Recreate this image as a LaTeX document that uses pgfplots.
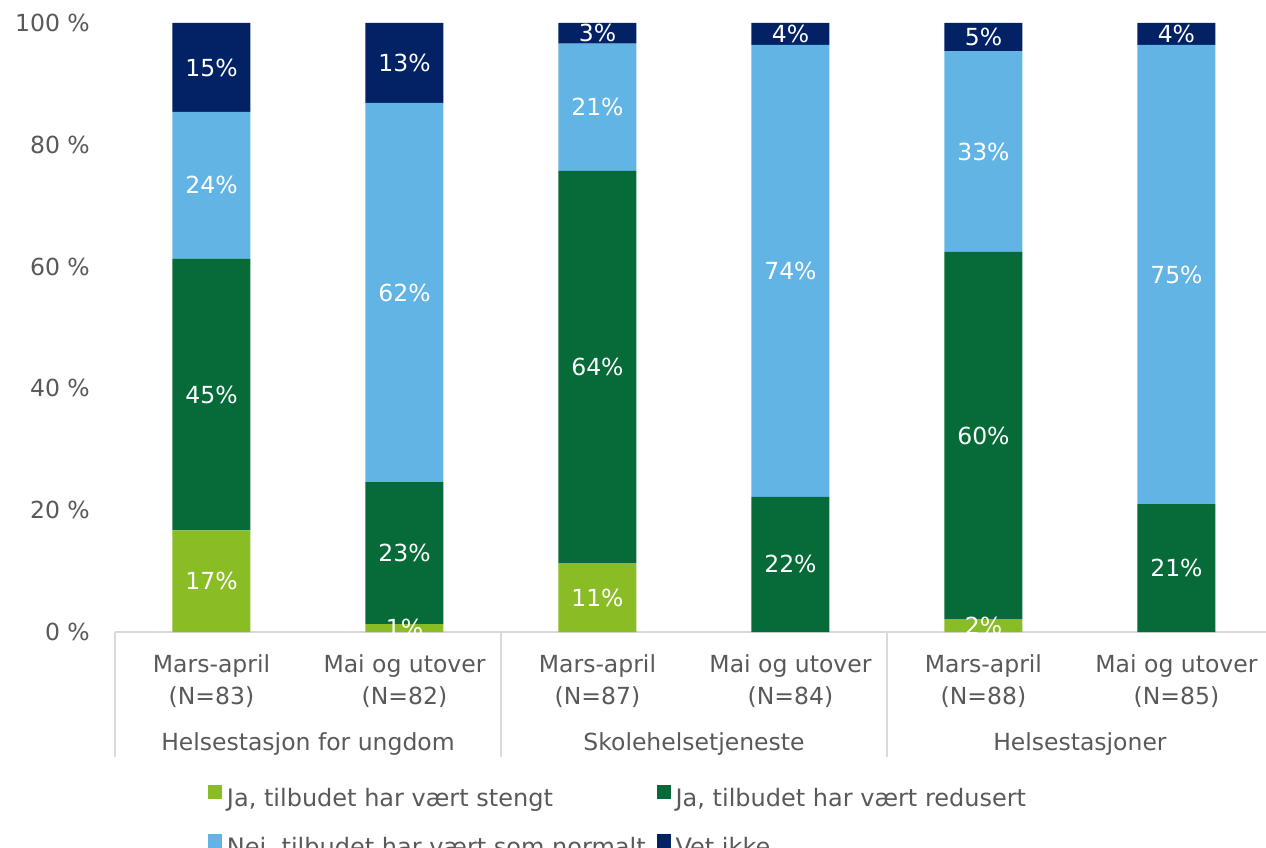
\documentclass[border=0pt]{standalone}
\usepackage{fontspec}
\setmainfont{DejaVu Sans}
\usepackage{pgfplots}
\pgfplotsset{compat=1.18}
\usepackage{pgfplotstable}
\definecolor{lgreen}{HTML}{8ABC26}
\definecolor{dgreen}{HTML}{066B38}
\definecolor{lblue}{HTML}{62B4E4}
\definecolor{navy}{HTML}{022265}
\definecolor{txtgray}{HTML}{595959}
\definecolor{linegray}{HTML}{D9D9D9}
\pgfplotstableread{
x a la b lb c lc d ld
0 16.7 17\% 44.6 45\% 24.1 24\% 14.6 15\%
1 1.3 1\% 23.3 23\% 62.3 62\% 13.1 13\%
2 11.3 11\% 64.4 64\% 20.9 21\% 3.4 3\%
3 0 {} 22.2 22\% 74.2 74\% 3.6 4\%
4 2.1 2\% 60.3 60\% 33.0 33\% 4.6 5\%
5 0 {} 21.0 21\% 75.4 75\% 3.6 4\%
}\data
\newcommand\tf{\fontsize{23.5bp}{32bp}\selectfont}
\begin{document}
\begin{tikzpicture}
\begin{axis}[
  at={(115bp,216bp)}, anchor=south west,
  scale only axis, width=1158bp, height=609bp,
  xmin=-0.5, xmax=5.5, ymin=0, ymax=100,
  ybar stacked, bar width=78bp,
  axis lines*=left,
  x axis line style={draw=linegray, line width=1.5bp},
  y axis line style={draw=none},
  major tick length=0pt,
  xtick={0,...,5},
  xticklabels={{Mars-april\\(N=83)},{Mai og utover\\(N=82)},{Mars-april\\(N=87)},{Mai og utover\\(N=84)},{Mars-april\\(N=88)},{Mai og utover\\(N=85)}},
  xticklabel style={align=center, font=\tf, text=txtgray, inner sep=0pt, yshift=-22bp},
  ytick={0,20,...,100},
  yticklabels={{0 \%},{20 \%},{40 \%},{60 \%},{80 \%},{100 \%}},
  yticklabel style={font=\tf, text=txtgray, inner sep=0pt, xshift=-25bp},
  /pgf/number format/assume math mode=true,
  clip=false,
  point meta=explicit symbolic,
  nodes near coords,
  every node near coord/.append style={font=\tf, text=white, anchor=center, inner sep=0pt},
  legend image code/.code={\fill[#1,draw=none] (0bp,2bp) rectangle (14bp,16bp);},
  legend columns=2,
  legend style={at={(0.0803,-0.2512)}, anchor=north west, draw=none, fill=none,
    inner sep=0pt, outer sep=0pt, font=\fontsize{24bp}{28bp}\selectfont, text=txtgray,
    row sep=22bp,
    nodes={inner sep=0pt, text height=17bp, text depth=5bp},
    /tikz/every odd column/.append style={column sep=5bp},
    /tikz/every even column/.append style={column sep=11bp}},
  legend cell align=left,
]
\addplot[fill=lgreen, draw=none] table[x=x,y=a,meta=la]{\data};
\addplot[fill=dgreen, draw=none] table[x=x,y=b,meta=lb]{\data};
\addplot[fill=lblue, draw=none] table[x=x,y=c,meta=lc]{\data};
\addplot[fill=navy, draw=none] table[x=x,y=d,meta=ld]{\data};
\legend{{Ja, tilbudet har vært stengt},{Ja, tilbudet har vært redusert},{Nei, tilbudet har vært som normalt},{Vet ikke}}
\draw[linegray, line width=1.5bp] (axis cs:-0.5,0) -- ++(0pt,-125bp);
\draw[linegray, line width=1.5bp] (axis cs:1.5,0) -- ++(0pt,-125bp);
\draw[linegray, line width=1.5bp] (axis cs:3.5,0) -- ++(0pt,-125bp);
\node[font=\tf, text=txtgray, anchor=base, inner sep=0pt] at ([yshift=-118bp]axis cs:0.5,0) {Helsestasjon for ungdom};
\node[font=\tf, text=txtgray, anchor=base, inner sep=0pt] at ([yshift=-118bp]axis cs:2.5,0) {Skolehelsetjeneste};
\node[font=\tf, text=txtgray, anchor=base, inner sep=0pt] at ([yshift=-118bp]axis cs:4.5,0) {Helsestasjoner};
\end{axis}
\pgfresetboundingbox
\path[use as bounding box] (0,0) rectangle (1266bp,848bp);
\end{tikzpicture}
\end{document}
